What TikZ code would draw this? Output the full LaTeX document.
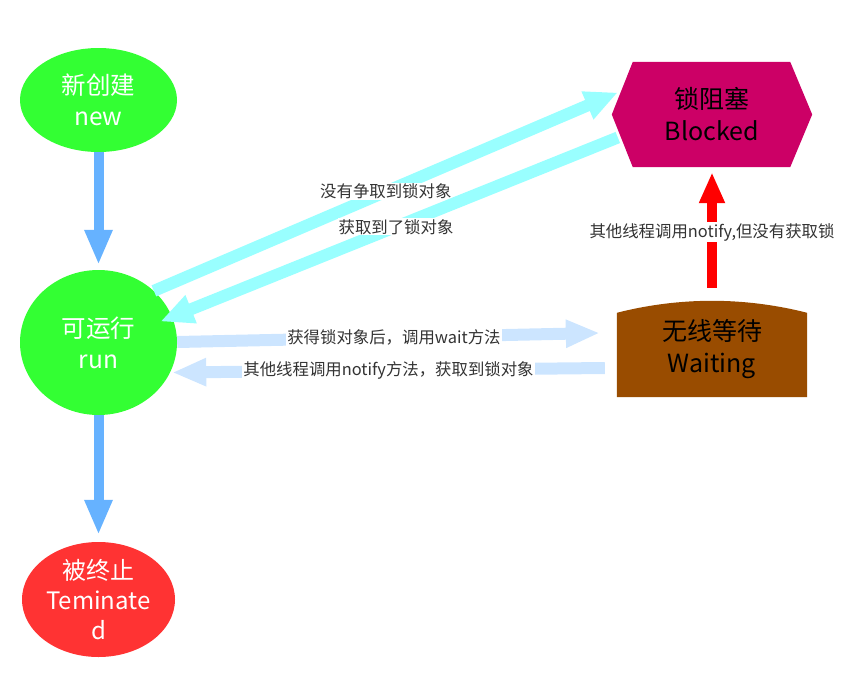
\documentclass[tikz,border=0pt]{standalone}
\usepackage{fontspec}
\setmainfont{Noto Sans CJK SC}
\usetikzlibrary{arrows.meta,calc,shapes.geometric,backgrounds}
\definecolor{ngreen}{HTML}{33FF33}
\definecolor{nred}{HTML}{FF3333}
\definecolor{nblk}{HTML}{CC0066}
\definecolor{nwait}{HTML}{994C00}
\definecolor{ablue}{HTML}{66B2FF}
\definecolor{acyan}{HTML}{99FFFF}
\definecolor{alight}{HTML}{CCE5FF}
\definecolor{ared}{HTML}{FF0000}
\definecolor{lgray}{HTML}{333333}
\begin{document}
\begin{tikzpicture}[x=1pt,y=-1pt,
  ell/.style={ellipse, inner sep=0pt, draw=none},
  ntext/.style={align=center, font=\fontsize{24.5}{31}\selectfont},
  holder/.style={rectangle, inner sep=0pt, draw=none},
  lbl/.style={fill=white, text=lgray, inner sep=1pt, font=\fontsize{16.4}{18}\selectfont},
  bluearr/.style={draw=ablue, line width=10pt, -{Triangle[length=35pt,width=26pt]}},
  cyanarr/.style={draw=acyan, line width=12pt, -{Triangle[length=33pt,width=28pt]}},
  lightarr/.style={draw=alight, line width=12pt, -{Triangle[length=34pt,width=26pt]}},
  redarr/.style={draw=ared, line width=10pt, -{Triangle[length=31pt,width=24pt]}}
]
\useasboundingbox (0,0) rectangle (868,686);

% state nodes
\node[ell, fill=ngreen, minimum width=157pt, minimum height=104pt,
      label={[ntext,text=white]center:{新创建\\new}}] (new) at (98.5,100) {};
\node[ell, fill=ngreen, minimum width=157pt, minimum height=145pt,
      label={[ntext,text=white]center:{可运行\\run}}] (run) at (98.5,342.5) {};
\node[ell, fill=nred, minimum width=153pt, minimum height=115pt,
      label={[ntext,text=white,font=\fontsize{24}{30}\selectfont]center:{被终止\\Teminate\\d}}] (term) at (98.5,599.5) {};

\node[holder, ntext, font=\fontsize{25}{32}\selectfont, minimum width=200pt, minimum height=105pt] (blk) at (712,114.5) {锁阻塞\\Blocked};
\node[holder, ntext, font=\fontsize{25}{32}\selectfont, minimum width=190pt, minimum height=96pt] (wait) at (712,349) {无线等待\\Waiting};

\begin{scope}[on background layer]
  \fill[nblk] (blk.west) -- ($(blk.north west)+(21,0)$) -- ($(blk.north east)+(-22,0)$)
    -- (blk.east) -- ($(blk.south east)+(-22,0)$) -- ($(blk.south west)+(21,0)$) -- cycle;
  \fill[nwait] (wait.south west) -- ($(wait.north west)+(0,12)$)
    .. controls ($(wait.north west)+(63,-4)$) and ($(wait.north east)+(-63,-4)$) .. ($(wait.north east)+(0,12)$)
    -- (wait.south east) -- cycle;
\end{scope}

% connectors
\draw[bluearr, shorten >=5pt] (new.south) -- (run.north);
\draw[bluearr, shorten >=7pt] (run.south) -- (term.north);

\draw[cyanarr] (run.43) -- ($(blk.west)+(6,-22)$)
  node[lbl, pos=0.5] {没有争取到锁对象};
\draw[cyanarr] ($(blk.west)+(6,23)$) -- ($(run.center)+(62,-21)$)
  node[lbl, pos=0.485] {获取到了锁对象};

\draw[lightarr] ($(run.east)+(0,-0.5)$) -- ($(wait.west)+(-17,-16)$)
  node[lbl, pos=0.513] {获得锁对象后，调用wait方法};
\draw[lightarr] ($(wait.west)+(-12,19)$) -- ($(run.east)+(-5,30)$)
  node[lbl, pos=0.5] {其他线程调用notify方法，获取到锁对象};

\draw[redarr] ($(wait.north)+(0,-13)$) -- ($(blk.south)+(0,5)$)
  node[lbl, pos=0.48] {其他线程调用notify,但没有获取锁};
\end{tikzpicture}
\end{document}
